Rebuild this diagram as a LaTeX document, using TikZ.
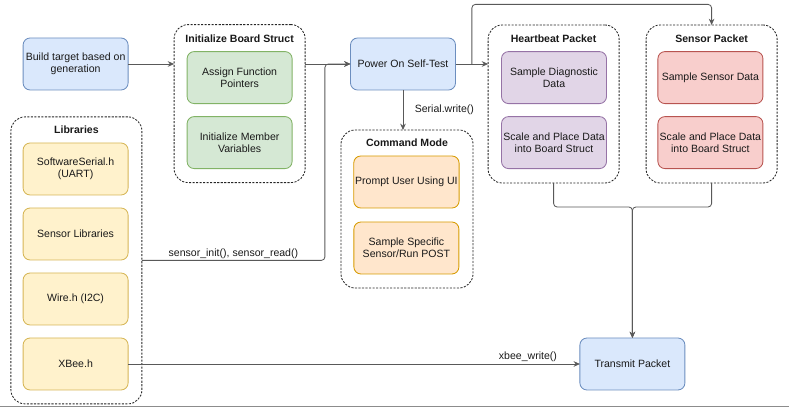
\documentclass[tikz,border=0pt]{standalone}
\usepackage{fontspec}
\setmainfont{Liberation Sans}
\usepackage{tikz}
\usetikzlibrary{arrows.meta}
\usetikzlibrary{positioning}
\tikzset{>={Stealth[length=4.5pt,width=4pt]}}
\usepackage{xcolor}

\definecolor{blueF}{HTML}{DAE8FC}   \definecolor{blueD}{HTML}{6C8EBF}
\definecolor{greenF}{HTML}{D5E8D4}  \definecolor{greenD}{HTML}{82B366}
\definecolor{yellowF}{HTML}{FFF2CC} \definecolor{yellowD}{HTML}{D6B656}
\definecolor{orangeF}{HTML}{FFE6CC} \definecolor{orangeD}{HTML}{D79B00}
\definecolor{purpleF}{HTML}{E1D5E7} \definecolor{purpleD}{HTML}{9673A6}
\definecolor{redF}{HTML}{F8CECC}    \definecolor{redD}{HTML}{B85450}

\tikzset{
    blk/.style={rounded corners=5pt, line width=0.6pt, minimum width=2.625cm, minimum height=1.3cm,
        inner sep=1pt, outer sep=0pt, align=center, text=black!90},
    bluebox/.style={blk, fill=blueF, draw=blueD},
    greenbox/.style={blk, fill=greenF, draw=greenD},
    yellowbox/.style={blk, fill=yellowF, draw=yellowD},
    orangebox/.style={blk, fill=orangeF, draw=orangeD},
    purplebox/.style={blk, fill=purpleF, draw=purpleD},
    redbox/.style={blk, fill=redF, draw=redD},
    grp/.style={draw=black!85, dash pattern=on 1.5pt off 1pt, line width=0.6pt, rounded corners=10pt,
        minimum width=3.275cm, minimum height=3.95cm, inner sep=0pt, outer sep=0pt},
    grptitle/.style={font=\fontsize{7.5}{8.6}\selectfont\bfseries, inner sep=0pt, text=black!90},
    conn/.style={draw=black!65, line width=0.6pt, rounded corners=2.5pt},
    lbl/.style={inner sep=1pt, text=black!90},
}

\begin{document}
\begin{tikzpicture}[font=\fontsize{7.5}{8.6}\selectfont]
    \useasboundingbox (0,0) rectangle (19.725,10.2);

    % dashed groups
    \node[grp] (initbs) at (5.99,7.61) {};
    \node[grp, minimum height=7.175cm] (libs) at (1.91,3.69) {};
    \node[grp, minimum width=3.3cm] (cmdmode) at (10.175,4.975) {};
    \node[grp] (hbpkt) at (13.84,7.6) {};
    \node[grp] (senspkt) at (17.79,7.6) {};

    \node[grptitle] (initbs-t) at ([yshift=-0.35cm]initbs.north) {Initialize Board Struct};
    \node[grptitle] (libs-t) at ([yshift=-0.33cm]libs.north) {Libraries};
    \node[grptitle] (cmdmode-t) at ([yshift=-0.33cm]cmdmode.north) {Command Mode};
    \node[grptitle] (hbpkt-t) at ([yshift=-0.35cm]hbpkt.north) {Heartbeat Packet};
    \node[grptitle] (senspkt-t) at ([yshift=-0.35cm]senspkt.north) {Sensor Packet};

    % boxes
    \node[bluebox] (build) at (1.89,8.6) {Build target based on\\generation};
    \node[greenbox] (assign) at (5.99,8.26) {Assign Function\\Pointers};
    \node[greenbox, below=0.325cm of assign] (member) {Initialize Member\\Variables};
    \node[bluebox] (poweron) at (10.075,8.6) {Power On Self-Test};

    \node[yellowbox] (softser) at (1.89,5.975) {SoftwareSerial.h\\(UART)};
    \node[yellowbox, below=0.325cm of softser] (senslib) {Sensor Libraries};
    \node[yellowbox, below=0.325cm of senslib] (wire) {Wire.h (I2C)};
    \node[yellowbox, below=0.325cm of wire] (xbee) {XBee.h};

    \node[orangebox] (prompt) at (10.16,5.65) {Prompt User Using UI};
    \node[orangebox, below=0.35cm of prompt] (samplesp) {Sample Specific\\Sensor/Run POST};

    \node[purplebox] (diag) at (13.85,8.26) {Sample Diagnostic\\Data};
    \node[purplebox, below=0.325cm of diag] (scalehb) {Scale and Place Data\\into Board Struct};
    \node[redbox] (sensdata) at (17.76,8.26) {Sample Sensor Data};
    \node[redbox, below=0.325cm of sensdata] (scalesp) {Scale and Place Data\\into Board Struct};

    \node[bluebox] (transmit) at (15.81,1.1) {Transmit Packet};

    % connectors
    \coordinate[left=0.64cm of poweron.west] (busup);
    \coordinate[right=0.41cm of poweron.east] (splitup);

    \draw[conn, ->] (build.east) -- (build.east -| initbs.west);
    \draw[conn, ->] (initbs.east |- poweron.west) -- (poweron.west);
    \draw[conn, ->] (libs.east) -| node[pos=0.25, above, lbl] {sensor\_init(), sensor\_read()} (busup) -- (poweron.west);
    \draw[conn, ->] (poweron.south) -- node[right=0.25cm, lbl] {Serial.write()} (poweron.south |- cmdmode.north);
    \draw[conn, ->] (poweron.east) -- (poweron.east -| hbpkt.west);
    \draw[conn, ->] (splitup) -- ++(0,1.49) -| (senspkt.north);
    \draw[conn, ->] (hbpkt.south) -- ++(0,-0.6) -| (transmit.north);
    \draw[conn, ->] (senspkt.south) -- ++(0,-0.6) -| (transmit.north);
    \draw[conn, ->] (xbee.east) -- node[pos=0.885, above, lbl] {xbee\_write()} (xbee.east -| transmit.west);

    % screenshot edge
    \draw[black!45, line width=0.7pt] (0,0.03) -- (19.725,0.03);
\end{tikzpicture}
\end{document}
